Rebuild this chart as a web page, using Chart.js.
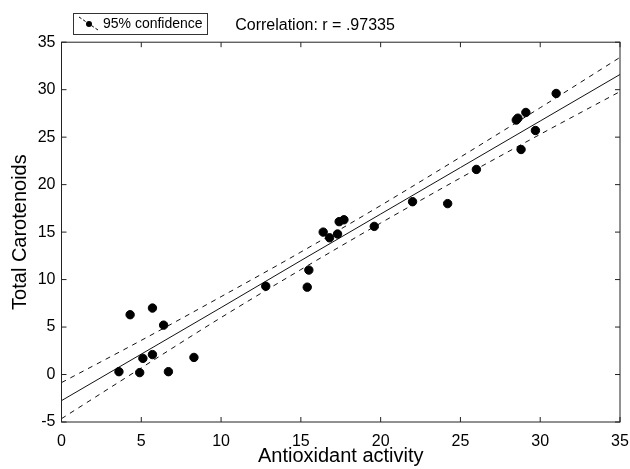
<!DOCTYPE html>
<html>
<head>
<meta charset="utf-8">
<script src="https://cdn.jsdelivr.net/npm/chart.js@4"></script>
<style>
  html, body { margin: 0; padding: 0; background: #fff; }
  #wrap { width: 630px; height: 469px; }
</style>
</head>
<body>
<div id="wrap"><canvas id="corrChart" width="630" height="469"></canvas></div>
<script>
// measured samples
const antioxidant = [3.6, 4.3, 4.9, 5.1, 5.7, 5.7, 6.4, 6.7, 8.3, 12.8, 15.4, 15.5, 16.4, 16.8, 17.3, 17.4, 17.7, 19.6, 22.0, 24.2, 26.0, 28.5, 28.6, 28.8, 29.1, 29.7, 31.0];
const carotenoids = [0.3, 6.3, 0.2, 1.7, 7.0, 2.1, 5.2, 0.3, 1.8, 9.3, 9.2, 11.0, 15.0, 14.4, 14.8, 16.1, 16.3, 15.6, 18.2, 18.0, 21.6, 26.8, 27.0, 23.7, 27.6, 25.7, 29.6];

// regression line and 95% band
const bandX = [0, 5, 10, 15, 20, 25, 30, 35];
const fitY = [-2.75, 2.15, 7.05, 12.0, 16.9, 21.8, 26.7, 31.6];
const upperY = [-0.85, 3.6, 8.2, 12.9, 17.8, 22.9, 28.1, 33.4];
const lowerY = [-4.65, 0.7, 6.0, 11.05, 15.95, 20.7, 25.3, 29.8];

const titleText = "Correlation: r = .97335";
const legendText = "95% confidence";
const xLabel = "Antioxidant activity";
const yLabel = "Total Carotenoids";

const FONT = "'Liberation Sans', Arial, sans-serif";

function toXY(xs, ys) {
  return xs.map((x, i) => ({ x, y: ys[i] }));
}

// box frame with inward tick marks on all four sides, plus the legend box
const framePlugin = {
  id: "frame",
  afterDatasetsDraw(chart) {
    const { ctx, chartArea: a, scales } = chart;
    ctx.save();
    ctx.strokeStyle = "#222";
    ctx.lineWidth = 1;
    ctx.strokeRect(a.left, a.top, a.right - a.left, a.bottom - a.top);
    const len = 5;
    ctx.beginPath();
    scales.x.ticks.forEach(t => {
      const px = scales.x.getPixelForValue(t.value);
      ctx.moveTo(px, a.bottom); ctx.lineTo(px, a.bottom - len);
      ctx.moveTo(px, a.top); ctx.lineTo(px, a.top + len);
    });
    scales.y.ticks.forEach(t => {
      const py = scales.y.getPixelForValue(t.value);
      ctx.moveTo(a.left, py); ctx.lineTo(a.left + len, py);
      ctx.moveTo(a.right, py); ctx.lineTo(a.right - len, py);
    });
    ctx.stroke();

    // legend
    ctx.fillStyle = "#fff";
    ctx.fillRect(73.5, 13.5, 134, 21);
    ctx.strokeStyle = "#333";
    ctx.strokeRect(73.5, 13.5, 134, 21);
    ctx.strokeStyle = "#000";
    ctx.setLineDash([3, 2]);
    ctx.beginPath();
    ctx.moveTo(79, 17); ctx.lineTo(98, 30);
    ctx.stroke();
    ctx.setLineDash([]);
    ctx.fillStyle = "#000";
    ctx.beginPath();
    ctx.arc(89, 24, 3, 0, Math.PI * 2);
    ctx.fill();
    ctx.font = "14px " + FONT;
    ctx.textBaseline = "middle";
    ctx.fillText(legendText, 103, 24.5);
    ctx.restore();
  }
};

const ctx = document.getElementById("corrChart").getContext("2d");
const chart = new Chart(ctx, {
  type: "scatter",
  data: {
    datasets: [
      {
        label: "samples",
        data: toXY(antioxidant, carotenoids),
        backgroundColor: "#000",
        borderColor: "#000",
        pointRadius: 4.2,
        pointHoverRadius: 4.2,
        showLine: false
      },
      {
        label: "fit",
        data: toXY(bandX, fitY),
        showLine: true,
        borderColor: "#111",
        borderWidth: 1,
        pointRadius: 0,
        fill: false
      },
      {
        label: "upper",
        data: toXY(bandX, upperY),
        showLine: true,
        borderColor: "#111",
        borderWidth: 1,
        borderDash: [5, 5],
        pointRadius: 0,
        cubicInterpolationMode: "monotone",
        fill: false
      },
      {
        label: "lower",
        data: toXY(bandX, lowerY),
        showLine: true,
        borderColor: "#111",
        borderWidth: 1,
        borderDash: [5, 5],
        pointRadius: 0,
        cubicInterpolationMode: "monotone",
        fill: false
      }
    ]
  },
  options: {
    responsive: false,
    animation: false,
    layout: { padding: { left: 0, right: 0, top: 0, bottom: 0 } },
    plugins: {
      legend: { display: false },
      tooltip: { enabled: false },
      title: {
        display: true,
        text: titleText,
        color: "#000",
        font: { family: FONT, size: 16, weight: "normal" },
        padding: { top: 16, bottom: 7 }
      }
    },
    scales: {
      x: {
        type: "linear",
        min: 0,
        max: 35,
        ticks: { stepSize: 5, color: "#000", padding: 10, font: { family: FONT, size: 16 } },
        grid: { display: false, drawTicks: false },
        border: { display: false },
        title: { display: true, text: xLabel, color: "#000", font: { family: FONT, size: 20 }, padding: { top: 0, bottom: 1 } },
        afterFit(scale) {
          scale.height = 47;
          scale.paddingRight = 10;
        }
      },
      y: {
        type: "linear",
        min: -5,
        max: 35,
        ticks: { stepSize: 5, color: "#000", padding: 6, font: { family: FONT, size: 16 } },
        grid: { display: false, drawTicks: false },
        border: { display: false },
        title: { display: true, text: yLabel, color: "#000", font: { family: FONT, size: 20 }, padding: { top: 8, bottom: 0 } },
        afterFit(scale) { scale.width = 61.5; }
      }
    }
  },
  plugins: [framePlugin]
});
</script>
</body>
</html>
